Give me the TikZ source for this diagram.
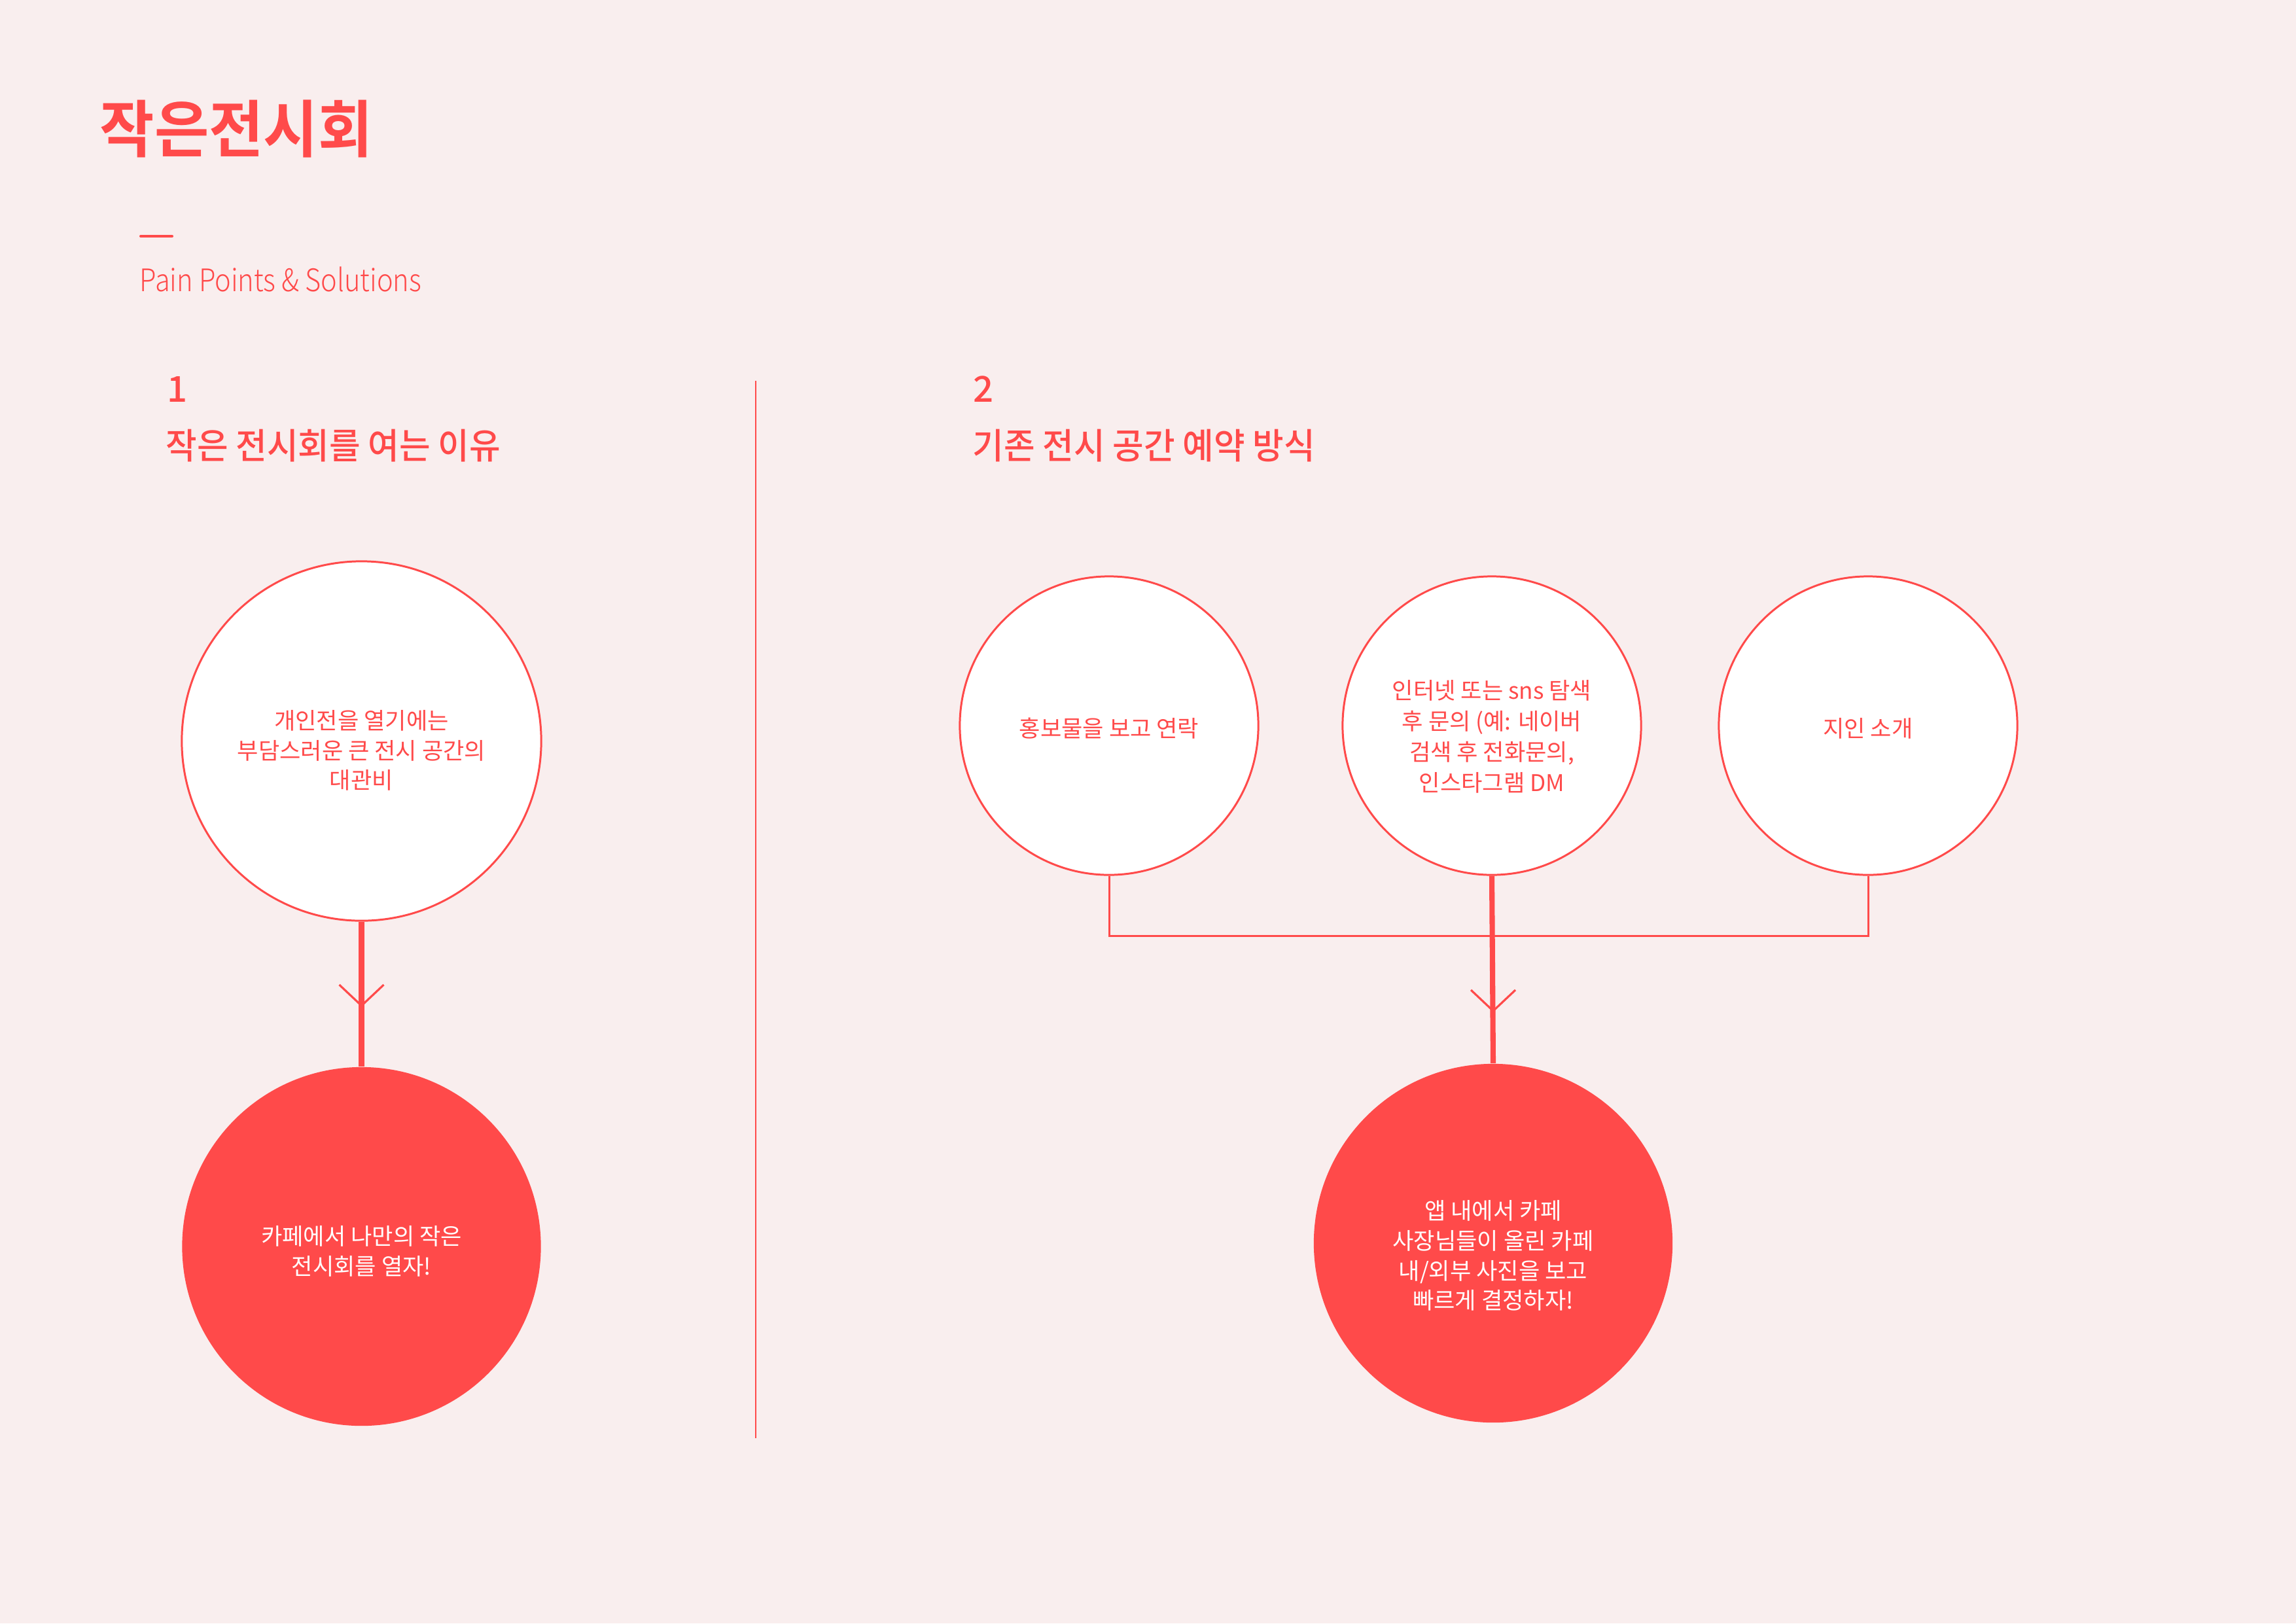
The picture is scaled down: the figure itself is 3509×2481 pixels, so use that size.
\documentclass[tikz,border=0pt]{standalone}
\usepackage{fontspec}
\usepackage{graphicx}
\usetikzlibrary{calc}
\newfontfamily\krR{Noto Sans CJK KR}
\newfontfamily\krM{Noto Sans CJK KR Medium}
\newfontfamily\krB{Noto Sans CJK KR Bold}
\newfontfamily\krL{Noto Sans CJK KR Light}
\definecolor{bgpink}{RGB}{249,238,238}
\definecolor{kred}{RGB}{255,74,74}
\tikzset{
  whitecirc/.style={circle, draw=kred, line width=0.85pt, fill=white, inner sep=0pt},
  redcirc/.style={circle, fill=kred, inner sep=0pt},
  bodytext/.style={align=center, inner sep=0pt, font=\krR\fontsize{10}{13}\selectfont},
  heading/.style={anchor=west, inner sep=0pt, text=kred, font=\krM\fontsize{15.5}{19}\selectfont},
  thinline/.style={draw=kred, line width=0.85pt},
  thickline/.style={draw=kred, line width=2.3pt},
  chevron/.style={draw=kred, line width=0.9pt}
}
\begin{document}
\begin{tikzpicture}[x=0.01cm, y=-0.01cm]
\fill[bgpink] (0,0) rectangle (3509,2481);
\useasboundingbox (0,0) rectangle (3509,2481);

% title block
\node[anchor=west, inner sep=0pt, text=kred, font=\krB\fontsize{27}{32}\selectfont] (title) at (152,197) {\scalebox{0.955}[1]{작은전시회}};
\coordinate (dashL) at (215,361);
\coordinate (dashR) at (263,361);
\draw[kred, line width=1.15pt, line cap=round] (dashL) -- (dashR);
\node[anchor=base west, inner sep=0pt, text=kred, font=\krL\fontsize{13.5}{16}\selectfont] (sub) at (213,445.7) {\scalebox{0.875}[1]{Pain Points \& Solutions}};

% section headings
\node[heading] (n1) at (255,595) {1};
\node[heading] (h1) at (253,681.5) {\scalebox{0.95}[1]{작은 전시회를 여는 이유}};
\node[heading] (n2) at (1487,595) {2};
\node[heading] (h2) at (1486,681.5) {\scalebox{0.95}[1]{기존 전시 공간 예약 방식}};

% divider
\coordinate (divT) at (1155,582);
\coordinate (divB) at (1155,2198);
\draw[kred, line width=0.6pt] (divT) -- (divB);

% left column
\node[whitecirc, minimum size=5.49cm] (c1) at (552.5,1132.5) {};
\node[bodytext, text=kred] (t1) at (552.5,1147) {개인전을 열기에는\\부담스러운 큰 전시 공간의\\대관비};
\node[redcirc, minimum size=5.48cm] (r1) at (552.5,1905) {};
\node[bodytext, text=white] (t2) at (552.5,1912) {카페에서 나만의 작은\\전시회를 열자!};
\draw[thickline] (c1.south) -- (r1.north);
\coordinate (a1) at (552.5,1537);
\draw[chevron] ($(a1)+(-34,-32)$) -- (a1) -- ($(a1)+(34,-32)$);

% right column
\node[whitecirc, minimum size=4.56cm] (w1) at (1695,1109) {};
\node[bodytext, text=kred] (u1) at (1695,1113) {홍보물을 보고 연락};
\node[whitecirc, minimum size=4.56cm] (w2) at (2280,1109) {};
\node[bodytext, text=kred, font=\krR\fontsize{10}{13.4}\selectfont] (u2) at (2280,1126) {인터넷 또는 sns 탐색\\후 문의 (예: 네이버\\검색 후 전화문의,\\인스타그램 DM};
\node[whitecirc, minimum size=4.56cm] (w3) at (2855,1109) {};
\node[bodytext, text=kred] (u3) at (2855,1113) {지인 소개};
\node[redcirc, minimum size=5.48cm] (r2) at (2282,1900) {};
\node[bodytext, text=white] (u4) at (2282,1919) {앱 내에서 카페\\사장님들이 올린 카페\\내/외부 사진을 보고\\빠르게 결정하자!};

\coordinate (hy) at (0,1430);
\draw[thinline] (w1.south) -- (w1.south |- hy) -- (w3.south |- hy) -- (w3.south);
\draw[thickline] (w2.south) -- (r2.north);
\coordinate (a2) at (2282,1545);
\draw[chevron] ($(a2)+(-34,-32)$) -- (a2) -- ($(a2)+(34,-32)$);
\end{tikzpicture}
\end{document}
